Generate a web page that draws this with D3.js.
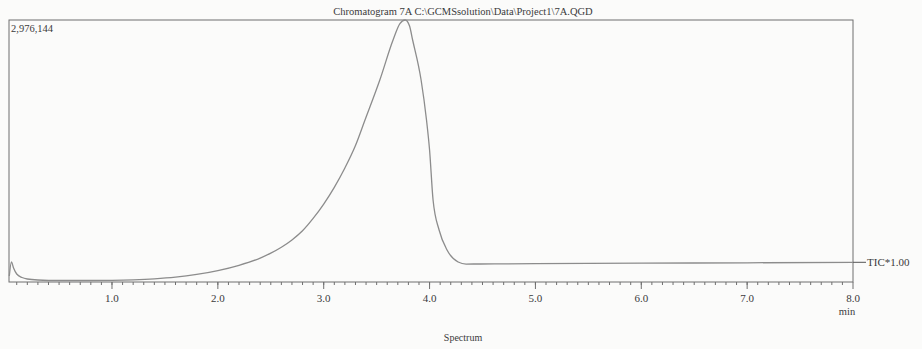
<!DOCTYPE html>
<html>
<head>
<meta charset="utf-8">
<script src="https://cdn.jsdelivr.net/npm/d3@7"></script>
<style>
  html, body { margin: 0; padding: 0; background: #fbfbfa; }
  svg { display: block; }
  text { font-family: "Liberation Serif", "DejaVu Serif", serif; fill: #3a3a3a; }
</style>
</head>
<body>
<svg id="chart" width="922" height="349"></svg>
<script>
// Retention time (min) and total ion current
const times = [0.03, 0.05, 0.07, 0.10, 0.15, 0.20, 0.30, 0.50, 0.80, 1.00, 1.20, 1.40, 1.60, 1.80,
  2.00, 2.20, 2.40, 2.50, 2.60, 2.70, 2.80, 2.90, 3.00, 3.10, 3.20, 3.30, 3.39, 3.53, 3.655, 3.72, 3.77,
  3.81, 3.84, 3.92, 3.971, 4.00, 4.033, 4.09, 4.165, 4.27, 4.345, 4.48, 5.00, 6.00, 7.00, 8.00];
const intensity = [68156, 227186, 159030, 90874, 51117, 34078, 22719, 17039, 17039, 19000, 25000, 36000, 55000, 86000,
  130000, 190000, 272000, 328000, 395000, 478000, 582000, 722000, 885000, 1075000, 1295000, 1550000, 1840210, 2294580, 2748950, 2935000, 2976144,
  2910000, 2748950, 2294580, 1840210, 1499430, 931460, 590684, 363500, 227186, 204000, 204500, 208000, 213560, 218100, 223780];

const majorTicks = [1.0, 2.0, 3.0, 4.0, 5.0, 6.0, 7.0, 8.0];
const tickLabels = ["1.0", "2.0", "3.0", "4.0", "5.0", "6.0", "7.0", "8.0"];
const minorTicks = d3.range(1, 80).map(i => i / 10);

const titleText = "Chromatogram 7A C:\\GCMSsolution\\Data\\Project1\\7A.QGD";
const maxLabel = "2,976,144";
const traceLabel = "TIC*1.00";
const xUnit = "min";
const footer = "Spectrum";

const svg = d3.select("#chart");
const plotLeft = 9, plotRight = 853, plotTop = 20, plotBottom = 282;

const x = d3.scaleLinear().domain([0.027, 8.0]).range([plotLeft, plotRight]);
const y = d3.scaleLinear().domain([0, 2976144]).range([plotBottom, plotTop]);

const frameColor = "#6f6f6f";

// frame
svg.append("rect")
  .attr("x", plotLeft).attr("y", plotTop)
  .attr("width", plotRight - plotLeft).attr("height", plotBottom - plotTop)
  .attr("fill", "none").attr("stroke", frameColor).attr("stroke-width", 1);

// x axis ticks
const axis = svg.append("g").attr("transform", `translate(0,${plotBottom})`);
axis.selectAll("line.minor").data(minorTicks).join("line")
  .attr("class", "minor")
  .attr("x1", d => x(d)).attr("x2", d => x(d))
  .attr("y1", 0).attr("y2", 3)
  .attr("stroke", frameColor).attr("stroke-width", 1);
axis.selectAll("line.major").data(majorTicks).join("line")
  .attr("class", "major")
  .attr("x1", d => x(d)).attr("x2", d => x(d))
  .attr("y1", 0).attr("y2", 7)
  .attr("stroke", frameColor).attr("stroke-width", 1);
axis.selectAll("text").data(majorTicks).join("text")
  .attr("x", d => x(d)).attr("y", 20)
  .attr("text-anchor", "middle")
  .attr("font-size", 11)
  .text((d, i) => tickLabels[i]);

// trace
const line = d3.line()
  .x((d, i) => x(times[i]))
  .y((d, i) => y(intensity[i]))
  .curve(d3.curveMonotoneX);
svg.append("path")
  .datum(intensity)
  .attr("d", line)
  .attr("fill", "none")
  .attr("stroke", "#8c8c8c")
  .attr("stroke-width", 1.3);

// trace label
const lastY = y(intensity[intensity.length - 1]);
svg.append("line")
  .attr("x1", plotRight).attr("x2", plotRight + 13)
  .attr("y1", lastY).attr("y2", lastY)
  .attr("stroke", "#555").attr("stroke-width", 1);
svg.append("text")
  .attr("x", plotRight + 14).attr("y", lastY + 4)
  .attr("font-size", 11)
  .text(traceLabel);

// texts
svg.append("text")
  .attr("x", 463).attr("y", 15)
  .attr("text-anchor", "middle")
  .attr("font-size", 10.5)
  .text(titleText);
svg.append("text")
  .attr("x", plotLeft + 2).attr("y", 32)
  .attr("font-size", 10.5)
  .text(maxLabel);
svg.append("text")
  .attr("x", plotRight - 6).attr("y", 315)
  .attr("text-anchor", "middle")
  .attr("font-size", 10.5)
  .text(xUnit);
svg.append("text")
  .attr("x", 463).attr("y", 341)
  .attr("text-anchor", "middle")
  .attr("font-size", 10)
  .text(footer);
</script>
</body>
</html>
